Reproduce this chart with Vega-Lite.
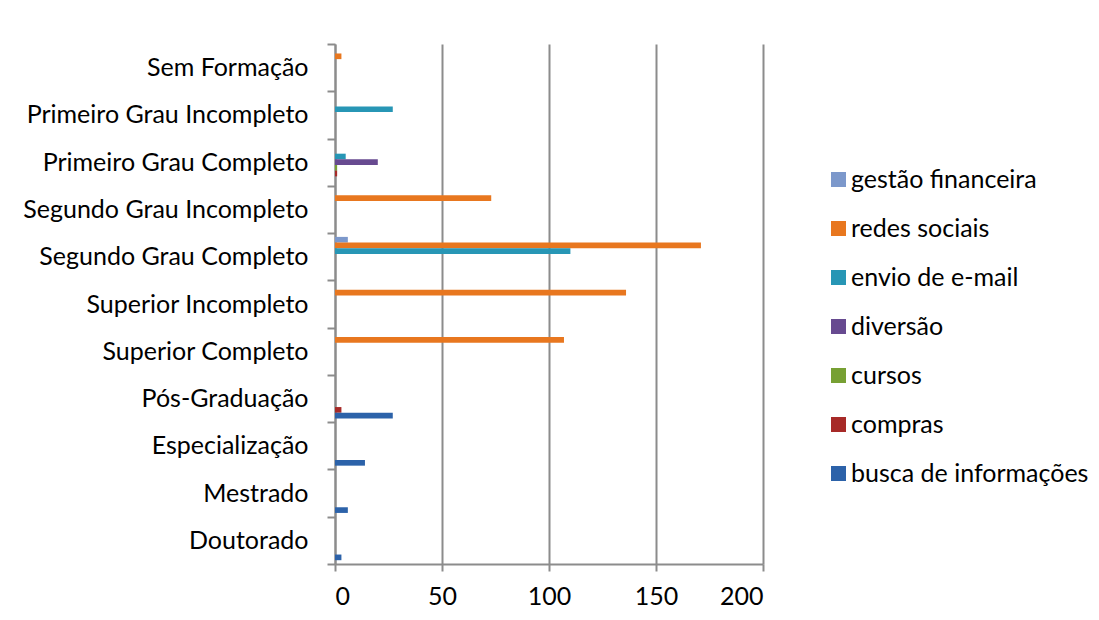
{
  "$schema": "https://vega.github.io/schema/vega-lite/v6.json",
  "autosize": "none",
  "width": 428,
  "height": 520,
  "padding": {"left": 335, "top": 44, "right": 336, "bottom": 56},
  "background": "white",
  "config": {
    "view": {"stroke": null},
    "font": "Lato"
  },
  "data": {
    "values": [
      {"nivel": "Sem Formação", "uso": "redes sociais", "valor": 3},
      {"nivel": "Primeiro Grau Incompleto", "uso": "envio de e-mail", "valor": 27},
      {"nivel": "Primeiro Grau Completo", "uso": "envio de e-mail", "valor": 5},
      {"nivel": "Primeiro Grau Completo", "uso": "diversão", "valor": 20},
      {"nivel": "Primeiro Grau Completo", "uso": "cursos", "valor": 1},
      {"nivel": "Primeiro Grau Completo", "uso": "compras", "valor": 1},
      {"nivel": "Segundo Grau Incompleto", "uso": "redes sociais", "valor": 73},
      {"nivel": "Segundo Grau Completo", "uso": "gestão financeira", "valor": 6},
      {"nivel": "Segundo Grau Completo", "uso": "redes sociais", "valor": 171},
      {"nivel": "Segundo Grau Completo", "uso": "envio de e-mail", "valor": 110},
      {"nivel": "Superior Incompleto", "uso": "redes sociais", "valor": 136},
      {"nivel": "Superior Completo", "uso": "redes sociais", "valor": 107},
      {"nivel": "Pós-Graduação", "uso": "compras", "valor": 3},
      {"nivel": "Pós-Graduação", "uso": "busca de informações", "valor": 27},
      {"nivel": "Especialização", "uso": "busca de informações", "valor": 14},
      {"nivel": "Mestrado", "uso": "busca de informações", "valor": 6},
      {"nivel": "Doutorado", "uso": "busca de informações", "valor": 3}
    ]
  },
  "mark": {"type": "bar"},
  "encoding": {
    "y": {
      "field": "nivel",
      "type": "nominal",
      "scale": {
        "domain": ["Sem Formação", "Primeiro Grau Incompleto", "Primeiro Grau Completo", "Segundo Grau Incompleto", "Segundo Grau Completo", "Superior Incompleto", "Superior Completo", "Pós-Graduação", "Especialização", "Mestrado", "Doutorado"],
        "paddingInner": 0,
        "paddingOuter": 0
      },
      "axis": {
        "title": null,
        "tickBand": "extent",
        "grid": false,
        "domainColor": "#8c8c8c",
        "domainWidth": 2,
        "tickColor": "#8c8c8c",
        "tickWidth": 2,
        "tickSize": 8,
        "labelPadding": 19,
        "labelFont": "Lato",
        "labelFontSize": 25,
        "labelColor": "#000000",
        "labelLimit": 400
      }
    },
    "yOffset": {
      "field": "uso",
      "type": "nominal",
      "scale": {
        "domain": ["gestão financeira", "redes sociais", "envio de e-mail", "diversão", "cursos", "compras", "busca de informações"],
        "paddingInner": 0,
        "paddingOuter": 0.67
      }
    },
    "x": {
      "field": "valor",
      "type": "quantitative",
      "scale": {"domain": [0, 200], "nice": false},
      "axis": {
        "title": null,
        "values": [0, 50, 100, 150, 200],
        "grid": true,
        "gridColor": "#8c8c8c",
        "gridWidth": 2,
        "domainColor": "#8c8c8c",
        "domainWidth": 2,
        "tickColor": "#8c8c8c",
        "tickWidth": 2,
        "tickSize": 7,
        "labelPadding": 13,
        "labelFont": "Lato",
        "labelFontSize": 25,
        "labelColor": "#000000"
      }
    },
    "color": {
      "field": "uso",
      "type": "nominal",
      "scale": {
        "domain": ["gestão financeira", "redes sociais", "envio de e-mail", "diversão", "cursos", "compras", "busca de informações"],
        "range": ["#7C98CB", "#E8771F", "#2796B5", "#674A90", "#77A033", "#A72A28", "#2C62A9"]
      },
      "legend": {
        "title": null,
        "orient": "none",
        "legendX": 491,
        "legendY": 123,
        "symbolType": "square",
        "symbolSize": 225,
        "symbolStrokeWidth": 0,
        "labelFont": "Lato",
        "labelFontSize": 25,
        "labelColor": "#000000",
        "labelOffset": 0,
        "rowPadding": 23,
        "labelLimit": 400
      }
    }
  }
}
